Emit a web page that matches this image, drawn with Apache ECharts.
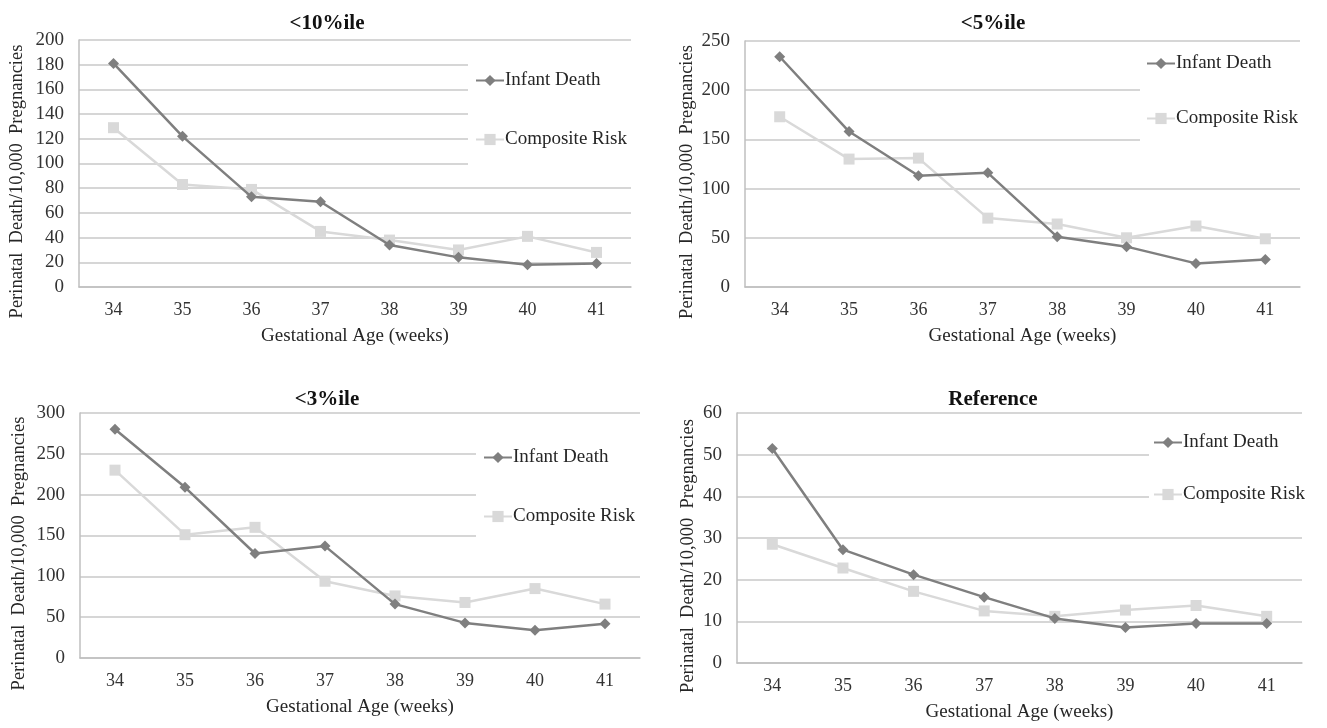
<!DOCTYPE html>
<html>
<head>
<meta charset="utf-8">
<script src="https://cdn.jsdelivr.net/npm/echarts@6/dist/echarts.min.js"></script>
<style>
html, body { margin: 0; padding: 0; background: #fff; }
#main { width: 1327px; height: 728px; }
</style>
</head>
<body>
<div id="main"></div>
<script>
// 孕周
var weeks = ['34', '35', '36', '37', '38', '39', '40', '41'];
var panelTitles = ['<10%ile', '<5%ile', '<3%ile', 'Reference'];

// Infant Death
var infant10 = [181, 122, 73, 69, 34, 24, 18, 19];
var infant5 = [234, 158, 113, 116, 51, 41, 24, 28];
var infant3 = [280, 209, 128, 137, 66, 43, 34, 42];
var infantRef = [51.5, 27.2, 21.2, 15.8, 10.7, 8.5, 9.5, 9.5];

// Composite Risk
var comp10 = [129, 83, 79, 45, 38, 30, 41, 28];
var comp5 = [173, 130, 131, 70, 64, 50, 62, 49];
var comp3 = [230, 151, 160, 94, 76, 68, 85, 66];
var compRef = [28.5, 22.8, 17.2, 12.5, 11.2, 12.7, 13.8, 11.2];

var yMax = [200, 250, 300, 60];
var yStep = [20, 50, 50, 10];

var infantAll = [infant10, infant5, infant3, infantRef];
var compAll = [comp10, comp5, comp3, compRef];

// 布局
var grids = [
    {left: 79, top: 40, width: 552, height: 247},
    {left: 745, top: 41, width: 555, height: 246},
    {left: 80, top: 413, width: 560, height: 245},
    {left: 737, top: 413, width: 565, height: 250}
];
var titlePos = [[322, 8], [988, 8], [322, 384], [988, 384]];
var yNameGap = [52, 48, 51, 39];
var legendPos = [
    {left: 468, top: 50, itemGap: 40, padding: [21, 8, 28, 7]},
    {left: 1140, top: 45, itemGap: 36, padding: [9, 8, 39, 6]},
    {left: 476, top: 420, itemGap: 40, padding: [28, 8, 36, 7]},
    {left: 1149, top: 420, itemGap: 33, padding: [13, 8, 18, 4]}
];

var FONT = '"Liberation Serif", "Times New Roman", serif';
var darkGray = '#7f7f7f';
var lightGray = '#d9d9d9';

var option = {
    backgroundColor: '#fff',
    animation: false,
    textStyle: {fontFamily: FONT},
    title: [],
    legend: [],
    grid: [],
    xAxis: [],
    yAxis: [],
    series: []
};

for (var i = 0; i < 4; i++) {
    option.grid.push(grids[i]);
    option.title.push({
        text: panelTitles[i],
        left: titlePos[i][0],
        top: titlePos[i][1],
        textAlign: 'center',
        textStyle: {fontFamily: FONT, fontSize: 21, fontWeight: 'bold', color: '#111'}
    });
    option.legend.push({
        orient: 'vertical',
        left: legendPos[i].left,
        top: legendPos[i].top,
        itemGap: legendPos[i].itemGap,
        padding: legendPos[i].padding,
        backgroundColor: '#fff',
        itemWidth: 28,
        itemHeight: 14,
        data: ['Infant Death', 'Composite Risk'],
        textStyle: {fontFamily: FONT, fontSize: 19, color: '#262626', lineHeight: 18, padding: [0, 0, 0, -4]}
    });
    option.xAxis.push({
        type: 'category',
        gridIndex: i,
        data: weeks,
        name: 'Gestational Age (weeks)',
        nameLocation: 'middle',
        nameGap: 40,
        nameTextStyle: {fontFamily: FONT, fontSize: 19, color: '#262626'},
        axisLine: {lineStyle: {color: '#bfbfbf', width: 1.5}},
        axisTick: {show: false},
        axisLabel: {fontFamily: FONT, fontSize: 18, color: '#333', margin: 14},
        splitLine: {show: false}
    });
    option.yAxis.push({
        type: 'value',
        gridIndex: i,
        min: 0,
        max: yMax[i],
        interval: yStep[i],
        name: 'Perinatal  Death/10,000  Pregnancies',
        nameLocation: 'middle',
        nameGap: yNameGap[i],
        nameTextStyle: {fontFamily: FONT, fontSize: 18.5, color: '#262626', padding: [0, 36, 0, 0]},
        axisLine: {show: true, lineStyle: {color: '#bfbfbf', width: 1.5}},
        axisTick: {show: false},
        axisLabel: {fontFamily: FONT, fontSize: 19, color: '#333', margin: 15},
        splitLine: {show: true, lineStyle: {color: '#c8c8c8', width: 1.5}}
    });
    option.series.push({
        name: 'Infant Death',
        type: 'line',
        xAxisIndex: i,
        yAxisIndex: i,
        data: infantAll[i],
        symbol: 'diamond',
        symbolSize: 11,
        z: 3,
        itemStyle: {color: darkGray},
        lineStyle: {color: darkGray, width: 2.5}
    });
    option.series.push({
        name: 'Composite Risk',
        type: 'line',
        xAxisIndex: i,
        yAxisIndex: i,
        data: compAll[i],
        symbol: 'rect',
        symbolSize: 11,
        z: 2,
        itemStyle: {color: lightGray},
        lineStyle: {color: lightGray, width: 2.5}
    });
}

var myChart = echarts.init(document.getElementById('main'));
if (option && typeof option === "object") {
    myChart.setOption(option, true);
}
</script>
</body>
</html>
